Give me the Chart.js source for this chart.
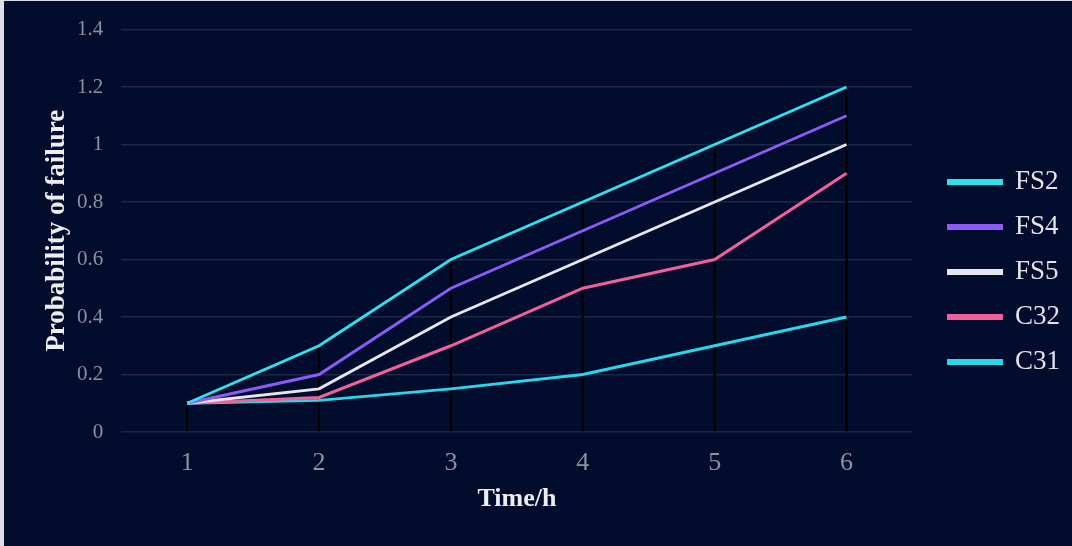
<!DOCTYPE html>
<html lang="en">
<head>
    <meta charset="UTF-8">
    <title>Probability of failure</title>
    <script src="https://cdn.jsdelivr.net/npm/chart.js"></script>
    <style>
        html, body {
            margin: 0;
            padding: 0;
            background: #dcdfe4;
        }
        .frame {
            position: absolute;
            left: 4px;
            top: 1px;
            width: 1068px;
            height: 545px;
            background: #020c2d;
        }
    </style>
</head>
<body>
    <div class="frame">
        <canvas id="chart" width="1068" height="545"></canvas>
    </div>

    <script>
        // data
        const hours = ['1', '2', '3', '4', '5', '6'];
        const fs2 = [0.1, 0.3, 0.6, 0.8, 1.0, 1.2];
        const fs4 = [0.1, 0.2, 0.5, 0.7, 0.9, 1.1];
        const fs5 = [0.1, 0.15, 0.4, 0.6, 0.8, 1.0];
        const c32 = [0.1, 0.12, 0.3, 0.5, 0.6, 0.9];
        const c31 = [0.1, 0.11, 0.15, 0.2, 0.3, 0.4];

        // drop lines go from the highest point of each hour to zero
        const dropLines = hours.map((h, i) => Math.max(fs2[i], fs4[i], fs5[i], c32[i], c31[i]));

        function lineSet(label, data, color) {
            return {
                type: 'line',
                label: label,
                data: data,
                borderColor: color,
                backgroundColor: color,
                borderWidth: 3,
                pointRadius: 0,
                tension: 0,
                order: 1
            };
        }

        const ctx = document.getElementById('chart').getContext('2d');
        new Chart(ctx, {
            type: 'bar',
            data: {
                labels: hours,
                datasets: [
                    lineSet('FS2', fs2, '#2fe1ee'),
                    lineSet('FS4', fs4, '#8a5cf5'),
                    lineSet('FS5', fs5, '#e6e6ee'),
                    lineSet('C32', c32, '#f0619b'),
                    lineSet('C31', c31, '#2ad6ea'),
                    {
                        type: 'bar',
                        label: 'drop',
                        data: dropLines,
                        backgroundColor: '#000000',
                        barThickness: 1.5,
                        order: 2
                    }
                ]
            },
            options: {
                responsive: false,
                animation: false,
                layout: {
                    padding: { left: 40, right: 2, top: 4, bottom: 34 }
                },
                plugins: {
                    tooltip: { enabled: false },
                    legend: {
                        position: 'right',
                        // blank title only pushes the items down a bit
                        title: {
                            display: true,
                            text: ' ',
                            padding: 0,
                            font: { size: 27, lineHeight: 1 }
                        },
                        labels: {
                            filter: item => item.text !== 'drop',
                            boxWidth: 53,
                            boxHeight: 3,
                            padding: 18,
                            color: '#e4e4ea',
                            font: { family: 'Liberation Serif', size: 27 }
                        }
                    }
                },
                scales: {
                    x: {
                        offset: true,
                        grid: { display: false },
                        border: { display: false },
                        ticks: {
                            color: '#8d919e',
                            padding: 10,
                            font: { family: 'Liberation Serif', size: 26, lineHeight: 1 }
                        },
                        title: {
                            display: true,
                            text: 'Time/h',
                            color: '#eeeef2',
                            padding: { top: 0, bottom: 0 },
                            font: { family: 'Liberation Serif', size: 26, weight: 'bold', lineHeight: 1 }
                        }
                    },
                    y: {
                        min: 0,
                        max: 1.4,
                        ticks: {
                            stepSize: 0.2,
                            color: '#8d919e',
                            padding: 18,
                            callback: v => String(Math.round(v * 10) / 10),
                            font: { family: 'Liberation Serif', size: 21, lineHeight: 1 }
                        },
                        grid: {
                            color: '#1d2746',
                            lineWidth: 1.5,
                            drawTicks: false
                        },
                        border: { display: false },
                        title: {
                            display: true,
                            text: 'Probability of failure',
                            color: '#eeeef2',
                            padding: { top: 0, bottom: -12 },
                            font: { family: 'Liberation Serif', size: 27, weight: 'bold', lineHeight: 1 }
                        }
                    },
                    // empty spacer between the plot and the legend
                    gap: {
                        position: 'right',
                        type: 'linear',
                        grid: { display: false },
                        border: { display: false },
                        ticks: { display: false },
                        afterFit: s => { s.width = 18; }
                    }
                }
            }
        });
    </script>
</body>
</html>
